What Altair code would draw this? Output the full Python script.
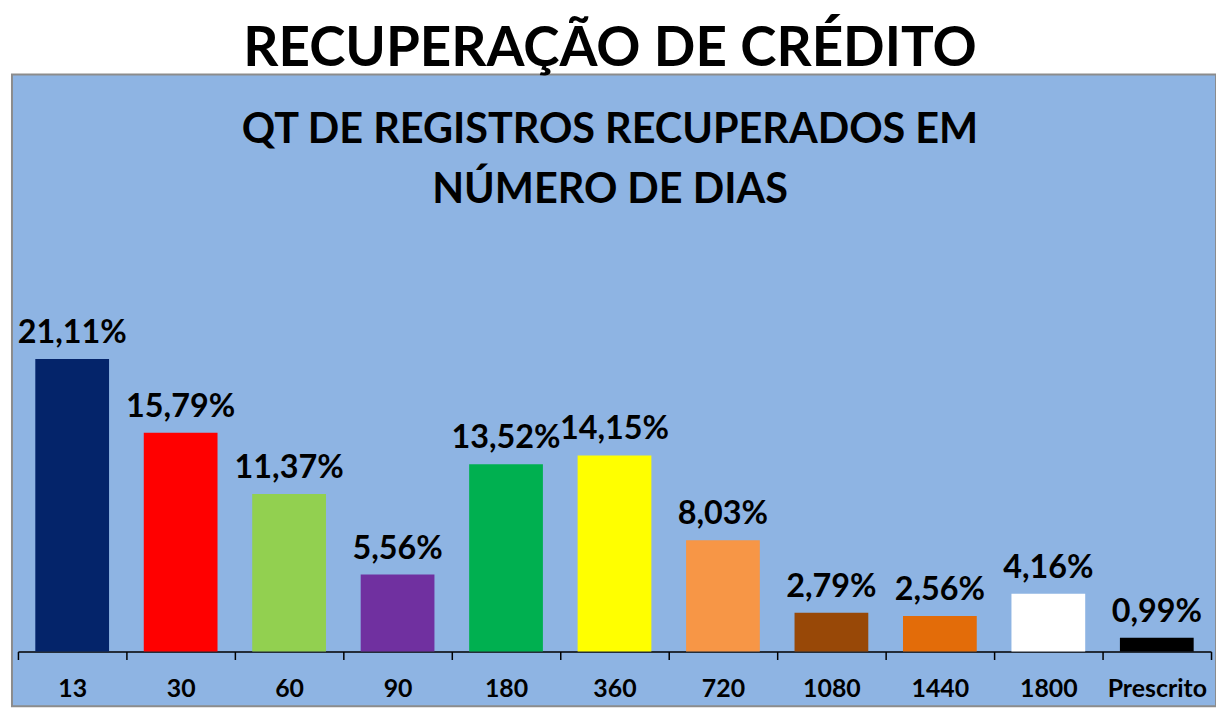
import altair as alt
import pandas as pd

categories = ["13", "30", "60", "90", "180", "360", "720", "1080", "1440", "1800", "Prescrito"]
values = [21.11, 15.79, 11.37, 5.56, 13.52, 14.15, 8.03, 2.79, 2.56, 4.16, 0.99]
bar_colors = ["#04246A", "#FF0000", "#92D050", "#7030A0", "#00B050", "#FFFF00",
              "#F79646", "#984807", "#E36C09", "#FFFFFF", "#000000"]

title_text = "RECUPERAÇÃO DE CRÉDITO"
subtitle_lines = ["QT DE REGISTROS RECUPERADOS EM", "NÚMERO DE DIAS"]

df = pd.DataFrame({"cat": categories, "val": values})
df["label"] = [f"{v:.2f}".replace(".", ",") + "%" for v in values]

FONT = "Lato"

x_enc = alt.X(
    "cat:N",
    sort=categories,
    scale=alt.Scale(domain=categories, range=[6, 1205], paddingInner=0, paddingOuter=0),
    axis=alt.Axis(
        title=None, labelAngle=0, offset=-55, tickBand="extent",
        labelFont=FONT, labelFontSize=25, labelFontWeight="bold", labelColor="#000000",
        labelPadding=17, tickSize=8, tickWidth=1.5, tickColor="#000000",
        domainColor="#000000", domainWidth=1.5, grid=False,
    ),
)
y_scale = alt.Scale(domain=[-3.95, 41.64], nice=False, zero=False)

bars = alt.Chart(df).mark_bar(width=alt.RelativeBandSize(0.68)).encode(
    x=x_enc,
    y=alt.Y("val:Q", scale=y_scale, axis=None),
    y2=alt.datum(0),
    color=alt.Color("cat:N", scale=alt.Scale(domain=categories, range=bar_colors), legend=None),
)

texts = alt.Chart(df).mark_text(
    font=FONT, fontSize=32.5, fontWeight="bold", color="#000000",
    baseline="alphabetic", dy=-16,
).encode(
    x=alt.X("cat:N", sort=categories),
    y=alt.Y("val:Q", scale=y_scale, axis=None),
    text="label:N",
)

chart = alt.layer(bars, texts).properties(
    width=1210,
    height=635,
    padding={"left": 4, "top": 65, "right": 0, "bottom": 0},
    autosize=alt.AutoSizeParams(type="none"),
    title=alt.Title(
        text=title_text,
        subtitle=subtitle_lines,
        anchor="middle",
        dx=-4,
        offset=-138.7,
        font=FONT, fontSize=55, fontWeight="bold", color="#000000",
        subtitleFont=FONT, subtitleFontSize=41.6, subtitleFontWeight="bold",
        subtitleColor="#000000", subtitlePadding=32.3, subtitleLineHeight=60.3,
    ),
).configure(
    background="#FFFFFF",
).configure_view(
    fill="#8EB4E3", stroke="#8C8C8C", strokeWidth=2,
)

chart.save("out.html", embed_options={"renderer": "svg", "actions": False})
